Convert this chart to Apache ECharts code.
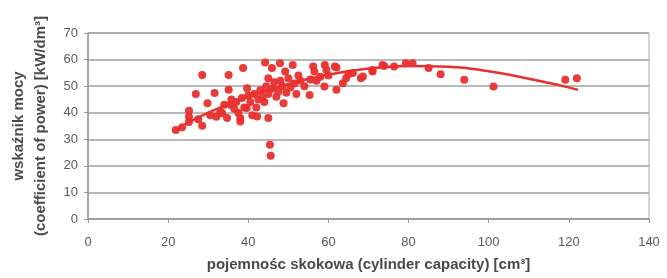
<!DOCTYPE html>
<html>
<head>
<meta charset="utf-8">
<script src="https://cdn.jsdelivr.net/npm/echarts@6/dist/echarts.min.js"></script>
<style>
  html, body { margin: 0; padding: 0; background: #fff; }
  #chartmain { width: 667px; height: 278px; }
</style>
</head>
<body>
<div id="chartmain"></div>
<script>
// punkty pomiarowe: [pojemność skokowa cm3, wskaźnik mocy kW/dm3]
const points = [
    [21.9, 33.5], [23.5, 34.5], [25.2, 36.5], [25.2, 38.5], [25.2, 40.7], [26.9, 47], [28.5, 54.2],
    [28.5, 35.1], [27.5, 37.5], [29.8, 43.6], [30.5, 39], [31.6, 47.4], [32, 38.5], [33, 40.5],
    [33.5, 39.8], [34, 43], [34.7, 38], [35.1, 54.2], [35.1, 48.6], [35.5, 43], [35.8, 45],
    [36.5, 41.5], [37, 44], [37.5, 40], [38, 36.7], [38, 38], [38.4, 45.5], [38.7, 56.8],
    [39, 42], [39.6, 41.8], [39.7, 49.2], [40, 46.5], [40.5, 44], [41, 39], [41.5, 47], [42, 42],
    [42.2, 38.6], [42.5, 45], [43, 48.5], [43.5, 46], [44, 44], [44.2, 58.9], [44.5, 50], [45, 53],
    [45, 38], [45, 47], [45.4, 27.9], [45.6, 23.8], [45.9, 56.8], [46, 49], [46.5, 51.5], [47, 46],
    [47.5, 48], [47.9, 58.6], [48, 52], [48.5, 50], [48.8, 43.6], [49.2, 55.5], [49.5, 47.5],
    [50, 53], [50.5, 49.5], [51.1, 58], [51.5, 51], [52, 47], [52.5, 54], [53, 52], [54, 50],
    [55.3, 46.7], [55.5, 52.5], [56.2, 57.4], [56.5, 55.5], [57, 52], [58, 53.5], [59, 49.9],
    [59.1, 58], [59.5, 56.1], [60, 54], [61.6, 57.4], [62, 48.6], [62, 57], [63.6, 51.1],
    [64.4, 53], [65, 54.5], [66.1, 54.9], [68.1, 53], [68.6, 53.6], [71, 55.5], [71, 56.1],
    [73.5, 58], [73.9, 57.6], [76.4, 57.4], [79.3, 58.6], [81, 58.6], [85, 56.8], [88, 54.5],
    [93.9, 52.4], [101.2, 49.9], [119.1, 52.4], [122, 53]
];
// linia trendu
const trend = [
    [21.9, 33.6], [30, 40], [40, 46], [50, 50.8], [60, 54.3], [70, 56.6], [80, 57.6],
    [90, 57.3], [100, 55.6], [110, 52.8], [118, 50.2], [122.3, 48.6]
];
const xTicks = { min: 0, max: 140, interval: 20 };
const yTicks = { min: 0, max: 70, interval: 10 };

const chart = echarts.init(document.getElementById('chartmain'));
const red = '#e8302f';
const labelStyle = { color: '#5a5a5a', fontSize: 13, fontFamily: 'Liberation Sans, Arial, sans-serif' };
const nameStyle = { color: '#4a4a4a', fontSize: 15, fontWeight: 'bold', fontFamily: 'Liberation Sans, Arial, sans-serif' };

const option = {
    animation: false,
    grid: {
        left: 83, right: 18, top: 33, bottom: 59,
        show: true, borderColor: '#a8a8a8', borderWidth: 1
    },
    xAxis: {
        type: 'value',
        min: xTicks.min, max: xTicks.max, interval: xTicks.interval,
        name: 'pojemnośc skokowa (cylinder capacity) [cm³]',
        nameLocation: 'middle', nameGap: 38,
        nameTextStyle: nameStyle,
        axisLine: { show: true, lineStyle: { color: '#999', width: 1.5 } },
        axisTick: { show: true, length: 4, lineStyle: { color: '#999' } },
        axisLabel: Object.assign({ margin: 17 }, labelStyle),
        splitLine: { show: false }
    },
    yAxis: {
        type: 'value',
        min: yTicks.min, max: yTicks.max, interval: yTicks.interval,
        name: 'wskaźnik mocy\n(coefficient of power) [kW/dm³]',
        nameLocation: 'middle', nameGap: 36,
        nameTextStyle: Object.assign({ lineHeight: 22 }, nameStyle),
        axisLine: { show: true, lineStyle: { color: '#999', width: 1.5 } },
        axisTick: { show: true, length: 4, lineStyle: { color: '#999' } },
        axisLabel: Object.assign({ margin: 10 }, labelStyle),
        splitLine: { show: true, lineStyle: { color: '#a0a0a0', width: 1.5 } }
    },
    series: [
        {
            type: 'scatter',
            data: points,
            symbolSize: 8,
            itemStyle: { color: red, opacity: 0.95 }
        },
        {
            type: 'line',
            data: trend,
            smooth: true,
            showSymbol: false,
            lineStyle: { color: red, width: 2.5 }
        }
    ]
};

chart.setOption(option);
</script>
</body>
</html>
